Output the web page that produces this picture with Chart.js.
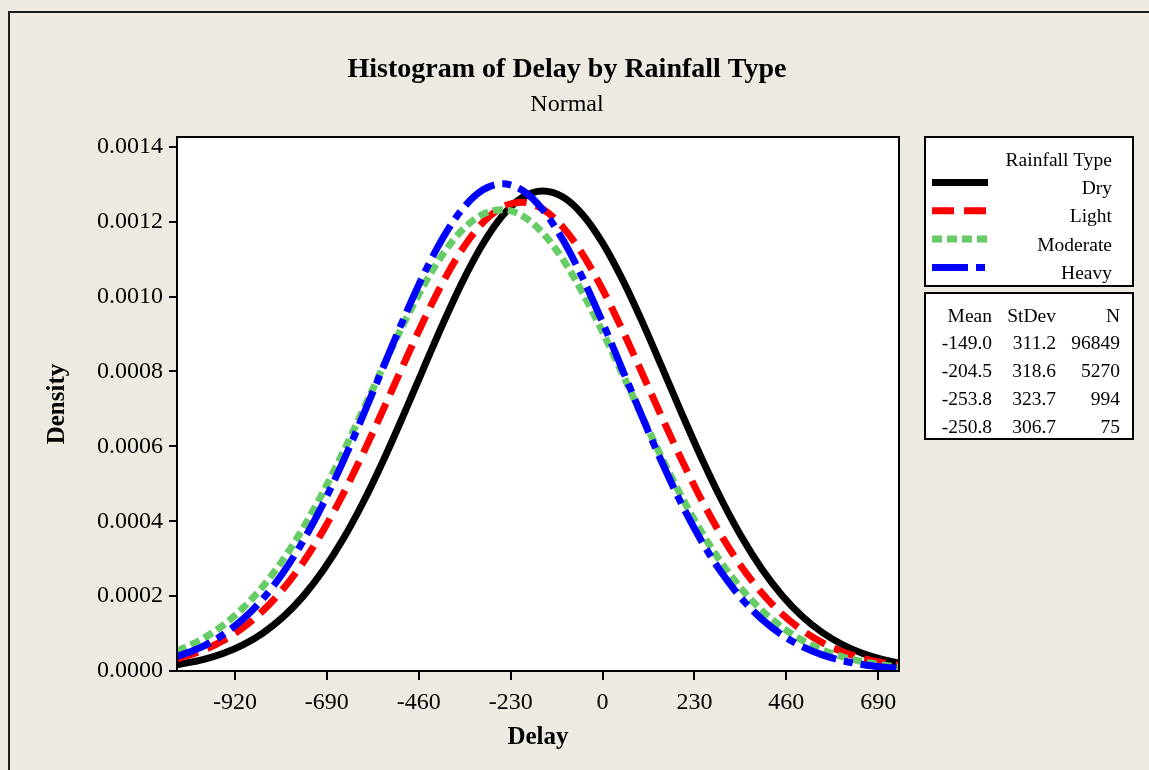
<!DOCTYPE html>
<html>
<head>
<meta charset="utf-8">
<title>Histogram of Delay by Rainfall Type</title>
<script src="https://cdn.jsdelivr.net/npm/chart.js@4.4.1/dist/chart.umd.min.js"></script>
<style>
  html, body { margin: 0; padding: 0; background: #EEEAE1; }
  #wrap { width: 1149px; height: 770px; }
</style>
</head>
<body>
<div id="wrap"><canvas id="delayChart" width="1149" height="770"></canvas></div>
<script>
const delayGrid = [-1065, -1000, -950, -900, -850, -800, -750, -700, -650, -600,
    -550, -500, -450, -400, -350, -300, -250, -200, -150, -100,
    -50, 0, 50, 100, 150, 200, 250, 300, 350, 400,
    450, 500, 550, 600, 650, 700, 742];

// Density of each rainfall group at the delay values above
const dryDensity = [0.0000168, 0.0000305, 0.0000467, 0.0000697, 0.0001014, 0.0001437, 0.0001986, 0.0002674, 0.0003509, 0.0004486,
    0.0005589, 0.0006787, 0.0008031, 0.0009260, 0.0010406, 0.0011397, 0.0012162, 0.0012649, 0.0012820, 0.0012662,
    0.0012188, 0.0011432, 0.0010450, 0.0009309, 0.0008080, 0.0006836, 0.0005636, 0.0004527, 0.0003545, 0.0002704,
    0.0002011, 0.0001456, 0.0001028, 0.0000708, 0.0000475, 0.0000310, 0.0000213];
const lightDensity = [0.0000326, 0.0000554, 0.0000810, 0.0001156, 0.0001608, 0.0002182, 0.0002891, 0.0003736, 0.0004710, 0.0005794,
    0.0006954, 0.0008143, 0.0009304, 0.0010372, 0.0011281, 0.0011970, 0.0012393, 0.0012519, 0.0012338, 0.0011864,
    0.0011131, 0.0010190, 0.0009101, 0.0007930, 0.0006742, 0.0005593, 0.0004525, 0.0003573, 0.0002753, 0.0002070,
    0.0001517, 0.0001086, 0.0000758, 0.0000516, 0.0000343, 0.0000223, 0.0000152];
const moderateDensity = [0.0000533, 0.0000864, 0.0001219, 0.0001679, 0.0002259, 0.0002967, 0.0003806, 0.0004764, 0.0005825, 0.0006953,
    0.0008107, 0.0009225, 0.0010253, 0.0011125, 0.0011788, 0.0012196, 0.0012320, 0.0012151, 0.0011703, 0.0011004,
    0.0010105, 0.0009060, 0.0007932, 0.0006780, 0.0005659, 0.0004611, 0.0003669, 0.0002852, 0.0002163, 0.0001603,
    0.0001159, 0.0000819, 0.0000565, 0.0000380, 0.0000250, 0.0000160, 0.0000109];
const heavyDensity = [0.0000384, 0.0000659, 0.0000968, 0.0001384, 0.0001929, 0.0002618, 0.0003459, 0.0004451, 0.0005577, 0.0006804,
    0.0008084, 0.0009352, 0.0010535, 0.0011558, 0.0012346, 0.0012843, 0.0013010, 0.0012833, 0.0012326, 0.0011528,
    0.0010500, 0.0009313, 0.0008043, 0.0006764, 0.0005540, 0.0004417, 0.0003429, 0.0002594, 0.0001910, 0.0001370,
    0.0000956, 0.0000650, 0.0000430, 0.0000277, 0.0000174, 0.0000106, 0.0000069];

// Groups and the summary table on the right
const rainfallTypes = ['Dry', 'Light', 'Moderate', 'Heavy'];
const statMeans = [-149.0, -204.5, -253.8, -250.8];
const statStDevs = [311.2, 318.6, 323.7, 306.7];
const statCounts = [96849, 5270, 994, 75];

// Axis ticks
const xTickValues = [-920, -690, -460, -230, 0, 230, 460, 690];
const yTickValues = [0, 0.0002, 0.0004, 0.0006, 0.0008, 0.0010, 0.0012, 0.0014];

const serif = '"Liberation Serif", "Times New Roman", serif';
const seriesColors = ['#000000', '#FF0000', '#66CC66', '#0000FF'];
const seriesDashes = [[], [22, 10], [10, 5], [36, 8, 9, 8]];
const densitySeries = [dryDensity, lightDensity, moderateDensity, heavyDensity];

// Pair each density array with the delay grid
function toPoints(values) {
    return delayGrid.map((x, i) => ({ x: x, y: values[i] }));
}

// Background, frame, titles, plot border and the two legend boxes
const minitabFrame = {
    id: 'minitabFrame',
    beforeDraw(chart) {
        const ctx = chart.ctx;
        const area = chart.chartArea;
        ctx.save();
        ctx.fillStyle = '#EEEAE1';
        ctx.fillRect(0, 0, chart.width, chart.height);

        ctx.strokeStyle = '#1e1e1e';
        ctx.lineWidth = 2;
        ctx.beginPath();
        ctx.moveTo(9, chart.height);
        ctx.lineTo(9, 12);
        ctx.lineTo(chart.width, 12);
        ctx.stroke();

        ctx.fillStyle = '#FFFFFF';
        ctx.fillRect(area.left, area.top, area.right - area.left, area.bottom - area.top);

        ctx.fillStyle = '#000000';
        ctx.textAlign = 'center';
        ctx.textBaseline = 'middle';
        ctx.font = 'bold 28px ' + serif;
        ctx.fillText('Histogram of Delay by Rainfall Type', 567, 70);
        ctx.font = '24px ' + serif;
        ctx.fillText('Normal', 567, 105);
        ctx.restore();
    },
    afterDatasetsDraw(chart) {
        const ctx = chart.ctx;
        const area = chart.chartArea;
        ctx.save();
        ctx.strokeStyle = '#000000';
        ctx.lineWidth = 2;
        ctx.strokeRect(area.left, area.top, area.right - area.left, area.bottom - area.top);
        ctx.restore();
    },
    afterDraw(chart) {
        const ctx = chart.ctx;
        ctx.save();
        ctx.fillStyle = '#FFFFFF';
        ctx.strokeStyle = '#000000';
        ctx.lineWidth = 2;
        ctx.fillRect(925, 137, 208, 149);
        ctx.strokeRect(925, 137, 208, 149);
        ctx.fillRect(925, 293, 208, 146);
        ctx.strokeRect(925, 293, 208, 146);

        // legend with line samples
        ctx.fillStyle = '#000000';
        ctx.textAlign = 'right';
        ctx.textBaseline = 'middle';
        ctx.font = '19.5px ' + serif;
        ctx.fillText('Rainfall Type', 1112, 161);
        rainfallTypes.forEach((name, i) => {
            const y = 189 + i * 28.3;
            ctx.fillText(name, 1112, y);
            ctx.strokeStyle = seriesColors[i];
            ctx.lineWidth = 7;
            ctx.setLineDash(seriesDashes[i]);
            ctx.beginPath();
            ctx.moveTo(932, y - 6.5);
            ctx.lineTo(988, y - 6.5);
            ctx.stroke();
        });
        ctx.setLineDash([]);

        // summary table
        ctx.font = '19.5px ' + serif;
        ctx.fillText('Mean', 992, 317);
        ctx.fillText('StDev', 1056, 317);
        ctx.fillText('N', 1120, 317);
        statMeans.forEach((m, i) => {
            const y = 344 + i * 28;
            ctx.fillText(m.toFixed(1), 992, y);
            ctx.fillText(statStDevs[i].toFixed(1), 1056, y);
            ctx.fillText(String(statCounts[i]), 1120, y);
        });
        ctx.restore();
    }
};

const ctx = document.getElementById('delayChart').getContext('2d');
window.delayChart = new Chart(ctx, {
    type: 'line',
    data: {
        datasets: rainfallTypes.map((name, i) => ({
            label: name,
            data: toPoints(densitySeries[i]),
            borderColor: seriesColors[i],
            borderWidth: 7,
            borderDash: seriesDashes[i],
            pointRadius: 0,
            fill: false,
            cubicInterpolationMode: 'monotone',
            order: rainfallTypes.length - i
        }))
    },
    options: {
        responsive: false,
        animation: false,
        events: [],
        layout: { padding: { top: 137, right: 250, bottom: 0, left: 0 } },
        plugins: {
            legend: { display: false },
            tooltip: { enabled: false },
            title: { display: false }
        },
        scales: {
            x: {
                type: 'linear',
                min: -1065,
                max: 742,
                afterBuildTicks: scale => { scale.ticks = xTickValues.map(v => ({ value: v })); },
                afterFit: scale => { scale.height = 99; },
                border: { display: true, color: '#000000', width: 2 },
                grid: { drawOnChartArea: false, drawTicks: true, tickLength: 9, color: '#000000', lineWidth: 2 },
                ticks: {
                    padding: 8,
                    maxRotation: 0,
                    autoSkip: false,
                    color: '#000000',
                    font: { family: serif, size: 24 },
                    callback: value => String(value)
                },
                title: {
                    display: true,
                    text: 'Delay',
                    color: '#000000',
                    font: { family: serif, size: 25, weight: 'bold' },
                    padding: { top: 0, bottom: 17 }
                }
            },
            y: {
                min: 0,
                max: 0.001426,
                afterBuildTicks: scale => { scale.ticks = yTickValues.map(v => ({ value: v })); },
                afterFit: scale => { scale.width = 177; },
                border: { display: true, color: '#000000', width: 2 },
                grid: { drawOnChartArea: false, drawTicks: true, tickLength: 8, color: '#000000', lineWidth: 2 },
                ticks: {
                    padding: 6,
                    color: '#000000',
                    font: { family: serif, size: 24 },
                    callback: value => value.toFixed(4)
                },
                title: {
                    display: true,
                    text: 'Density',
                    color: '#000000',
                    font: { family: serif, size: 25, weight: 'bold' },
                    padding: { top: 43, bottom: 0 }
                }
            }
        }
    },
    plugins: [minitabFrame]
});
</script>
</body>
</html>
